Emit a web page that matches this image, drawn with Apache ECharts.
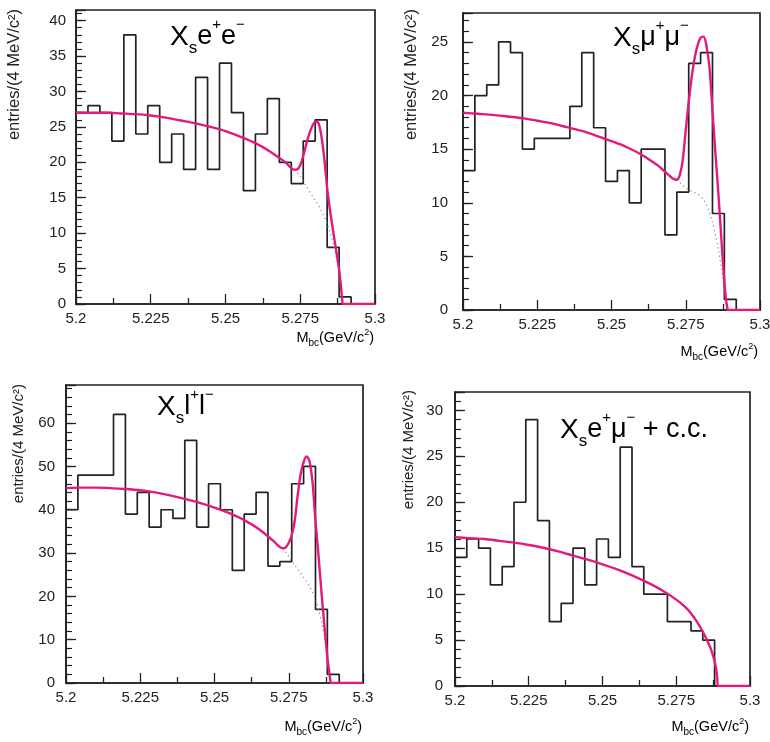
<!DOCTYPE html>
<html>
<head>
<meta charset="utf-8">
<script src="https://cdn.jsdelivr.net/npm/echarts@6/dist/echarts.min.js"></script>
<style>
html, body { margin: 0; padding: 0; background: #ffffff; }
#chart { width: 770px; height: 742px; }
</style>
</head>
<body>
<div id="chart"></div>
<script>
// Histogram binning: 25 bins of 4 MeV/c^2 starting at 5.200 GeV/c^2
const binStart = 5.2;
const binWidth = 0.004;
const xMin = 5.2, xMax = 5.3, xStep = 0.025;

// Entries per bin
const countsEE = [27, 28, 27, 23, 38, 24, 28, 20, 24, 19, 32, 19, 34, 27, 16, 24, 29, 20, 17, 23, 26, 8, 1, 0, 0];
const countsMM = [13, 20, 21, 25, 24, 15, 16, 16, 16, 19, 24, 17, 12, 13, 10, 15, 15, 7, 11, 23, 24, 9, 1, 0, 0];
const countsLL = [40, 48, 48, 48, 62, 39, 44, 36, 40, 38, 56, 36, 46, 40, 26, 39, 44, 27, 28, 46, 50, 17, 2, 0, 0];
const countsEM = [14, 16, 15, 11, 13, 20, 29, 18, 7, 9, 15, 11, 16, 14, 26, 13, 10, 10, 7, 7, 6, 5, 0, 0, 0];

// Fitted curves (signal + background), points as [Mbc, entries]
const fitEE = [[5.200, 27.0], [5.205, 27.0], [5.210, 27.0], [5.215, 26.9], [5.220, 26.8], [5.225, 26.6],
  [5.230, 26.3], [5.235, 25.9], [5.240, 25.5], [5.245, 25.0], [5.250, 24.4], [5.255, 23.6],
  [5.260, 22.7], [5.265, 21.5], [5.270, 20.0], [5.271, 19.6], [5.272, 19.2], [5.273, 18.95],
  [5.274, 19.0], [5.275, 19.6], [5.276, 20.9], [5.277, 22.5], [5.278, 24.0], [5.279, 25.1],
  [5.280, 25.7], [5.281, 25.6], [5.282, 23.9], [5.283, 20.7], [5.284, 16.4], [5.285, 13.1],
  [5.286, 10.3], [5.287, 7.6], [5.288, 4.8], [5.2885, 3.0], [5.289, 0.8], [5.2894, 0], [5.300, 0]];
const fitMM = [[5.200, 18.4], [5.205, 18.3], [5.210, 18.2], [5.215, 18.05], [5.220, 17.9], [5.225, 17.65],
  [5.230, 17.4], [5.235, 17.05], [5.240, 16.7], [5.245, 16.25], [5.250, 15.75], [5.255, 15.2],
  [5.260, 14.5], [5.265, 13.6], [5.266, 13.4], [5.267, 13.15], [5.268, 12.9], [5.269, 12.65],
  [5.270, 12.4], [5.271, 12.2], [5.272, 12.15], [5.273, 12.6], [5.274, 14.0], [5.275, 16.8],
  [5.276, 19.4], [5.277, 21.7], [5.278, 23.5], [5.279, 24.7], [5.280, 25.4], [5.281, 25.5],
  [5.282, 24.6], [5.283, 22.6], [5.284, 18.6], [5.285, 14.6], [5.286, 10.8], [5.287, 6.6],
  [5.288, 2.6], [5.2885, 1.1], [5.289, 0.2], [5.2892, 0], [5.300, 0]];
const fitLL = [[5.200, 45.0], [5.205, 45.1], [5.210, 45.1], [5.215, 45.0], [5.220, 44.8], [5.225, 44.5],
  [5.230, 44.0], [5.235, 43.3], [5.240, 42.5], [5.245, 41.6], [5.250, 40.5], [5.255, 39.2],
  [5.260, 37.6], [5.265, 35.5], [5.270, 32.7], [5.271, 32.0], [5.272, 31.4], [5.273, 31.1],
  [5.274, 31.3], [5.275, 32.4], [5.276, 34.1], [5.277, 37.4], [5.278, 43.3], [5.279, 48.2],
  [5.280, 51.0], [5.281, 52.3], [5.282, 51.2], [5.283, 46.4], [5.284, 37.4], [5.285, 29.6],
  [5.286, 21.1], [5.287, 13.3], [5.288, 5.9], [5.2885, 3.3], [5.289, 0.6], [5.2892, 0], [5.300, 0]];
const fitEM = [[5.200, 16.2], [5.205, 16.1], [5.210, 16.0], [5.215, 15.8], [5.220, 15.6], [5.225, 15.35],
  [5.230, 15.05], [5.235, 14.65], [5.240, 14.2], [5.245, 13.75], [5.250, 13.25], [5.255, 12.7],
  [5.260, 12.05], [5.265, 11.3], [5.270, 10.45], [5.275, 9.4], [5.278, 8.6], [5.280, 7.9],
  [5.282, 7.0], [5.284, 5.9], [5.286, 4.6], [5.287, 3.8], [5.288, 2.7], [5.2885, 1.9],
  [5.2889, 0.9], [5.2891, 0], [5.300, 0]];

// Background-only component under the signal region
const bkgEE = [[5.273, 18.95], [5.274, 18.5], [5.275, 18.0], [5.276, 17.3], [5.277, 16.6], [5.278, 15.9],
  [5.279, 15.3], [5.280, 14.6], [5.281, 14.0], [5.282, 13.2], [5.283, 12.3], [5.284, 11.3],
  [5.285, 10.1], [5.286, 8.6], [5.287, 6.8], [5.288, 4.4], [5.2885, 2.8], [5.289, 0.7], [5.2893, 0]];
const bkgMM = [[5.272, 12.15], [5.273, 11.9], [5.274, 11.6], [5.275, 11.35], [5.276, 11.2], [5.277, 11.05],
  [5.278, 10.95], [5.279, 10.8], [5.280, 10.6], [5.281, 10.3], [5.282, 9.8], [5.283, 9.1],
  [5.284, 8.2], [5.285, 7.0], [5.286, 5.6], [5.287, 3.9], [5.288, 1.9], [5.2885, 0.9], [5.289, 0]];
const bkgLL = [[5.273, 31.1], [5.274, 30.2], [5.275, 29.2], [5.276, 28.2], [5.277, 27.2], [5.278, 26.3],
  [5.279, 25.3], [5.280, 24.4], [5.281, 23.4], [5.282, 22.3], [5.283, 21.0], [5.284, 19.5],
  [5.285, 17.0], [5.286, 14.2], [5.287, 10.8], [5.288, 5.6], [5.2885, 3.0], [5.289, 0.5], [5.2892, 0]];

// Text
const yName = 'entries/(4 MeV/c²)';
const xName = '{a|M}{b|bc}{a|(GeV/c}{c|2}{a|)}';
const titleEE = '{X|X}{s|s}{p|e}{u|+}{p|e}{u|−}';
const titleMM = '{X|X}{s|s}{p|μ}{u|+}{p|μ}{u|−}';
const titleLL = '{X|X}{s|s}{p|l}{u|+}{p|l}{u|−}';
const titleEM = '{X|X}{s|s}{p|e}{u|+}{p|μ}{u|−}{p| + c.c.}';

const INK = '#222222';
const FIT = '#e3197c';
const FONT = '"Liberation Sans", Arial, Helvetica, sans-serif';

const panels = [
  { counts: countsEE, fit: fitEE, bkg: bkgEE, yMax: 41.5, yMajor: 5, yMinor: 1, labelMargin: 10,
    rect: { left: 76, top: 10, width: 299, height: 294 },
    title: titleEE, titleAt: [170, 17], xNameAt: [374, 338], yNameAt: [14, 9], yNameSize: 16.5 },
  { counts: countsMM, fit: fitMM, bkg: bkgMM, yMax: 27.7, yMajor: 5, yMinor: 1, labelMargin: 15,
    rect: { left: 463, top: 13, width: 297, height: 297 },
    title: titleMM, titleAt: [613, 18], xNameAt: [758, 352], yNameAt: [411, 9], yNameSize: 16.5 },
  { counts: countsLL, fit: fitLL, bkg: bkgLL, yMax: 68.8, yMajor: 10, yMinor: 2, labelMargin: 11,
    rect: { left: 66, top: 385, width: 297, height: 298 },
    title: titleLL, titleAt: [157, 387], xNameAt: [362, 727], yNameAt: [19, 384], yNameSize: 15 },
  { counts: countsEM, fit: fitEM, bkg: null, yMax: 32, yMajor: 5, yMinor: 1, labelMargin: 12,
    rect: { left: 455, top: 392, width: 295, height: 294 },
    title: titleEM, titleAt: [560, 410], xNameAt: [749, 727], yNameAt: [409, 390], yNameSize: 15 }
];

// Step outline of a histogram: one point at each lower bin edge, closed at the upper edge
function histSteps(counts) {
  const pts = counts.map((c, i) => [binStart + binWidth * i, c]);
  pts.push([binStart + binWidth * counts.length, 0]);
  return pts;
}

const titleRich = {
  X: { fontSize: 28, lineHeight: 40, fontFamily: FONT, color: INK },
  p: { fontSize: 27, lineHeight: 40, fontFamily: FONT, color: INK },
  s: { fontSize: 17, lineHeight: 22, verticalAlign: 'bottom', fontFamily: FONT, color: INK },
  u: { fontSize: 15, lineHeight: 22, verticalAlign: 'top', fontFamily: FONT, color: INK }
};
const xNameRich = {
  a: { fontSize: 14.5, lineHeight: 20, fontFamily: FONT, color: INK },
  b: { fontSize: 10, lineHeight: 12, verticalAlign: 'bottom', fontFamily: FONT, color: INK },
  c: { fontSize: 9, lineHeight: 14, verticalAlign: 'top', fontFamily: FONT, color: INK }
};

const grid = [], xAxis = [], yAxis = [], series = [], graphic = [];

panels.forEach((p, i) => {
  grid.push(Object.assign({
    show: true, borderColor: INK, borderWidth: 1.7, backgroundColor: 'transparent',
    containLabel: false, outerBoundsMode: 'none'
  }, p.rect));

  xAxis.push({
    type: 'value', gridIndex: i, min: xMin, max: xMax, interval: xStep,
    axisLine: { show: true, onZero: false, lineStyle: { color: INK, width: 1.7 } },
    axisTick: { show: true, inside: true, length: 10, lineStyle: { color: INK, width: 1.3 } },
    minorTick: { show: true, splitNumber: 2, length: 6, lineStyle: { color: INK, width: 1.3 } },
    splitLine: { show: false }, minorSplitLine: { show: false },
    axisLabel: { fontSize: 15, color: INK, fontFamily: FONT, margin: 7,
      formatter: v => String(+(+v).toFixed(3)) }
  });

  // labelled major ticks
  yAxis.push({
    type: 'value', gridIndex: i, min: 0, max: p.yMax, interval: p.yMajor,
    axisLine: { show: true, onZero: false, lineStyle: { color: INK, width: 1.7 } },
    axisTick: { show: true, inside: true, length: 10, lineStyle: { color: INK, width: 1.3 } },
    splitLine: { show: false },
    axisLabel: { fontSize: 15, color: INK, fontFamily: FONT, margin: p.labelMargin,
      formatter: v => (Math.abs(v % p.yMajor) < 1e-9 ? String(v) : '') }
  });
  // unlabelled minor ticks
  yAxis.push({
    type: 'value', gridIndex: i, min: 0, max: p.yMax, interval: p.yMinor, position: 'left',
    axisLine: { show: false },
    axisTick: { show: true, inside: true, length: 6, lineStyle: { color: INK, width: 1.2 } },
    splitLine: { show: false },
    axisLabel: { show: false }
  });

  series.push({
    type: 'line', xAxisIndex: i, yAxisIndex: 2 * i, step: 'end',
    data: histSteps(p.counts), symbol: 'none', z: 3,
    lineStyle: { color: INK, width: 1.7 }
  });
  if (p.bkg) {
    series.push({
      type: 'line', xAxisIndex: i, yAxisIndex: 2 * i, data: p.bkg,
      smooth: 0.3, symbol: 'none', z: 4,
      lineStyle: { color: '#8a8a8a', width: 1.2, type: [1.2, 3.2] }
    });
  }
  series.push({
    type: 'line', xAxisIndex: i, yAxisIndex: 2 * i, data: p.fit,
    smooth: 0.3, symbol: 'none', z: 5,
    lineStyle: { color: FIT, width: 2.4 }
  });

  graphic.push({
    type: 'text', x: p.titleAt[0], y: p.titleAt[1], z: 10,
    style: { text: p.title, rich: titleRich, align: 'left', verticalAlign: 'top' }
  });
  graphic.push({
    type: 'text', x: p.xNameAt[0], y: p.xNameAt[1], z: 10,
    style: { text: xName, rich: xNameRich, align: 'right', verticalAlign: 'middle' }
  });
  graphic.push({
    type: 'text', x: p.yNameAt[0], y: p.yNameAt[1], rotation: Math.PI / 2, z: 10,
    style: { text: yName, fontSize: p.yNameSize, fontFamily: FONT, fill: INK,
      align: 'right', verticalAlign: 'middle' }
  });
});

const chart = echarts.init(document.getElementById('chart'), null, { renderer: 'canvas' });
chart.setOption({
  backgroundColor: '#ffffff',
  animation: false,
  grid, xAxis, yAxis, series, graphic
});
</script>
</body>
</html>
